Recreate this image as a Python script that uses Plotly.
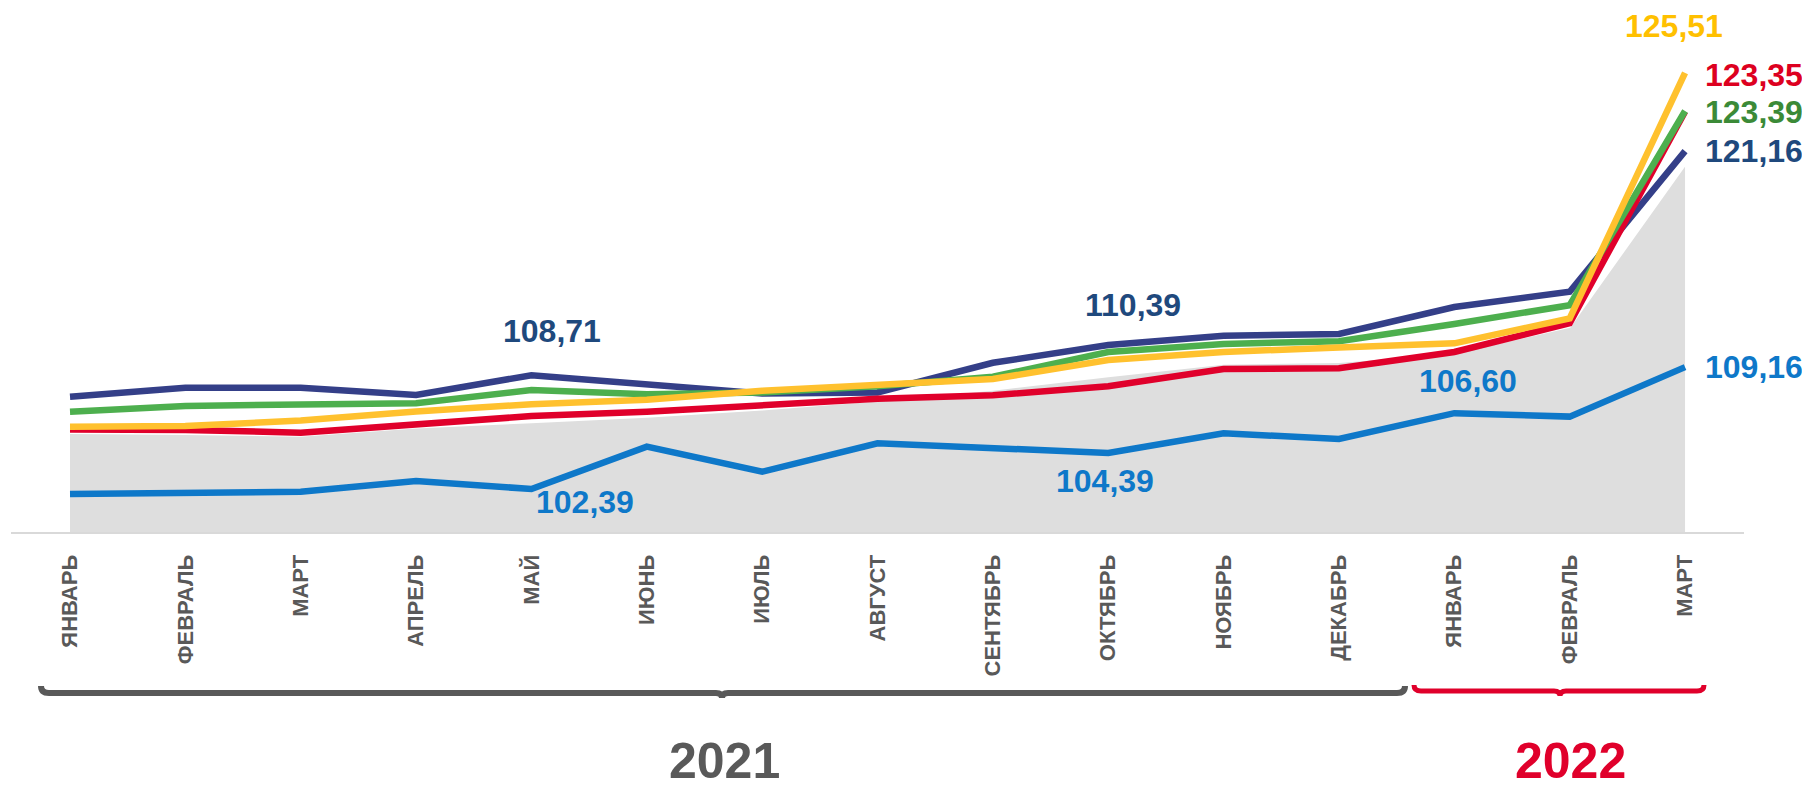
import plotly.graph_objects as go

# ---------------- data ----------------
months = ["ЯНВАРЬ", "ФЕВРАЛЬ", "МАРТ", "АПРЕЛЬ", "МАЙ", "ИЮНЬ", "ИЮЛЬ", "АВГУСТ",
          "СЕНТЯБРЬ", "ОКТЯБРЬ", "НОЯБРЬ", "ДЕКАБРЬ", "ЯНВАРЬ", "ФЕВРАЛЬ", "МАРТ"]
years = ["2021", "2022"]

navy = [107.52, 108.02, 108.02, 107.61, 108.71, 108.20, 107.70, 107.75,
        109.40, 110.39, 110.90, 111.00, 112.50, 113.35, 121.16]
green = [106.68, 107.00, 107.09, 107.15, 107.89, 107.65, 107.75, 108.10,
         108.63, 110.00, 110.45, 110.60, 111.56, 112.60, 123.39]
yellow = [105.85, 105.89, 106.19, 106.70, 107.10, 107.35, 107.85, 108.15,
          108.50, 109.55, 110.00, 110.25, 110.48, 111.87, 125.51]
red = [105.70, 105.67, 105.52, 106.00, 106.44, 106.68, 107.00, 107.40,
       107.60, 108.10, 109.05, 109.10, 110.00, 111.60, 123.35]
blue = [102.11, 102.15, 102.24, 102.83, 102.39, 104.74, 103.35, 104.93,
        104.70, 104.39, 105.48, 105.17, 106.60, 106.41, 109.16]
gray = [105.50, 105.45, 105.35, 105.80, 106.10, 106.40, 106.80, 107.30,
        107.90, 108.65, 109.35, 109.45, 109.95, 111.40, 120.40]

x_idx = list(range(len(months)))

# ---------------- style ----------------
FONT = "Liberation Sans, Arial, sans-serif"
C_NAVY, C_GREEN, C_YELLOW, C_RED, C_BLUE = "#343F88", "#4DAF4E", "#FFC12E", "#E0002B", "#0E78C9"
L_NAVY, L_GREEN, L_YELLOW, L_RED, L_BLUE = "#1F497D", "#3B8A37", "#FFC000", "#DD0020", "#0E78C9"
C_TEXT = "#595959"

W, H = 1802, 789
ML, MR, MT, MB = 11, 58, 20, 257
PX_PER_UNIT = 18.0
Y0 = 100
plot_h = H - MT - MB
y_range = [Y0, Y0 + plot_h / PX_PER_UNIT]
x_range = [-0.5114, 14.511]


def px_x(px):
    return (px - ML) / (W - ML - MR)


def px_y(py):
    return (H - MB - py) / plot_h


fig = go.Figure()

fig.add_trace(go.Scatter(x=x_idx, y=gray, mode="lines", fill="tozeroy",
                         fillcolor="#DEDEDE", line=dict(color="white", width=2),
                         hoverinfo="skip", showlegend=False))

for vals, col in [(blue, C_BLUE), (navy, C_NAVY), (red, C_RED), (green, C_GREEN), (yellow, C_YELLOW)]:
    fig.add_trace(go.Scatter(x=x_idx, y=vals, mode="lines",
                             line=dict(color=col, width=6.5),
                             hoverinfo="skip", showlegend=False))


def fmt(v):
    return f"{v:.2f}".replace(".", ",")


labels = [
    (navy, 4, L_NAVY, 21, 44, "center"),
    (blue, 4, L_BLUE, 54, -13, "center"),
    (navy, 9, L_NAVY, 25, 40, "center"),
    (blue, 9, L_BLUE, -3, -28, "center"),
    (blue, 12, L_BLUE, 14, 32, "center"),
    (blue, 14, L_BLUE, 18, 0, "left"),
    (navy, 14, L_NAVY, 18, 0, "left"),
    (green, 14, L_GREEN, 18, -1, "left"),
    (red, 14, L_RED, 18, 37, "left"),
    (yellow, 14, L_YELLOW, -11, 47, "center"),
]
for series, i, col, dx, dy, anc in labels:
    fig.add_annotation(x=i, y=series[i], xref="x", yref="y", text=fmt(series[i]),
                       showarrow=False, xshift=dx, yshift=dy, xanchor=anc, yanchor="middle",
                       font=dict(family=FONT, size=32, color=col, weight="bold"))


# year brackets
def bracket(x0, x1, xc, y_line, y_end, r, notch):
    pts = (f"M {px_x(x0)},{px_y(y_end)} "
           f"Q {px_x(x0)},{px_y(y_line)} {px_x(x0 + r)},{px_y(y_line)} "
           f"L {px_x(xc - 6)},{px_y(y_line)} "
           f"Q {px_x(xc)},{px_y(y_line)} {px_x(xc)},{px_y(y_line + notch)} "
           f"Q {px_x(xc)},{px_y(y_line)} {px_x(xc + 6)},{px_y(y_line)} "
           f"L {px_x(x1 - r)},{px_y(y_line)} "
           f"Q {px_x(x1)},{px_y(y_line)} {px_x(x1)},{px_y(y_end)}")
    return pts


fig.add_shape(type="path", xref="paper", yref="paper",
              path=bracket(41, 1405, 722, 693, 686, 8, 5),
              line=dict(color=C_TEXT, width=6))
fig.add_shape(type="path", xref="paper", yref="paper",
              path=bracket(1414, 1704, 1560, 691, 685, 7, 5),
              line=dict(color=C_RED, width=5))

fig.add_annotation(x=px_x(724), y=px_y(761), xref="paper", yref="paper", text=years[0],
                   showarrow=False, xanchor="center", yanchor="middle",
                   font=dict(family=FONT, size=50, color=C_TEXT, weight="bold"))
fig.add_annotation(x=px_x(1570), y=px_y(761), xref="paper", yref="paper", text=years[1],
                   showarrow=False, xanchor="center", yanchor="middle",
                   font=dict(family=FONT, size=50, color=C_RED, weight="bold"))

fig.update_layout(
    width=W, height=H,
    margin=dict(l=ML, r=MR, t=MT, b=MB, pad=0),
    paper_bgcolor="white", plot_bgcolor="white",
    showlegend=False,
    xaxis=dict(range=x_range, tickmode="array", tickvals=x_idx, ticktext=months,
               tickangle=-90, showgrid=False, zeroline=False,
               showline=True, linecolor="#D9D9D9", linewidth=2,
               ticks="", ticklabelstandoff=12,
               tickfont=dict(family=FONT, size=22, color=C_TEXT, weight="bold")),
    yaxis=dict(range=y_range, showgrid=False, zeroline=False, showticklabels=False,
               showline=False, ticks=""),
)

fig.write_html("out.html", config={"displayModeBar": False},
               post_script="document.body.style.margin='0';")
